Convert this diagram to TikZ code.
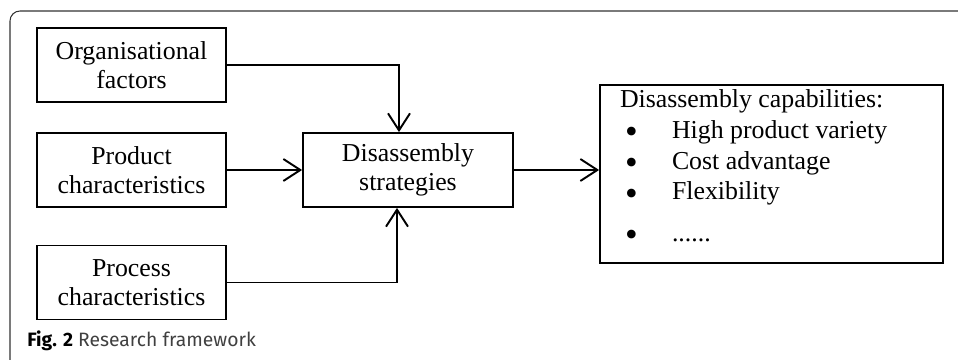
\documentclass[tikz,border=0pt]{standalone}
\usepackage{fontspec}
\setmainfont{Liberation Serif}
\newfontfamily\captionfont{Fira Sans}
\usetikzlibrary{arrows.meta}

\newcommand{\capbullet}{\makebox[1.04cm][l]{\hspace{0.1cm}\raisebox{-0.11cm}[0pt][0pt]{\scalebox{1.4}{\textbullet}}}}

\begin{document}
\begin{tikzpicture}[
    factor/.style={rectangle, draw, line width=1pt, minimum height=1.48cm, align=center,
      font=\fontsize{14.7}{16.8}\selectfont},
    link/.style={line width=1.1pt, -{Straight Barb[length=3.4mm, width=4.4mm]}}
  ]
  \useasboundingbox (0,0) rectangle (19.16,-7.2);

  % Figure frame
  \draw[line width=0.6pt, black!80, rounded corners=0.2cm] (0.2,-7.5) -- (0.2,-0.22) -- (19.5,-0.22);

  % Left side: influencing factors
  \node[factor, minimum width=3.78cm] (org) at (2.63,-1.30) {Organisational\\factors};
  \node[factor, minimum width=3.78cm] (prod) at (2.63,-3.40) {Product\\characteristics};
  \node[factor, minimum width=3.78cm] (proc) at (2.63,-5.65) {Process\\characteristics};

  % Middle: strategies
  \node[factor, minimum width=4.2cm] (strat) at (8.16,-3.40) {Disassembly\\strategies};

  % Right side: capabilities
  \node[rectangle, draw, line width=1pt, minimum width=6.86cm, minimum height=3.56cm, inner sep=0pt,
    font=\fontsize{14.7}{17.4}\selectfont] (caps) at (15.43,-3.48)
    {\parbox[c][3.36cm][t]{6.06cm}{%
      Disassembly capabilities:\\
      \capbullet High product variety\\
      \capbullet Cost advantage\\
      \capbullet Flexibility\\[0.22cm]
      \capbullet ......}};

  % Connectors
  \draw[link] (org.east) -| ([xshift=-0.18cm]strat.north);
  \draw[link] (prod.east) -- (strat.west);
  \draw[link] (proc.east) -| ([xshift=-0.22cm]strat.south);
  \draw[link] (strat.east) -- (caps.west |- strat.east);

  % Caption
  \node[anchor=base west, inner sep=0pt, font=\captionfont\fontsize{11}{13}\selectfont, black!75] (cap) at (0.54,-6.94)
    {\textcolor{black}{\bfseries Fig. 2} Research framework};
\end{tikzpicture}
\end{document}
